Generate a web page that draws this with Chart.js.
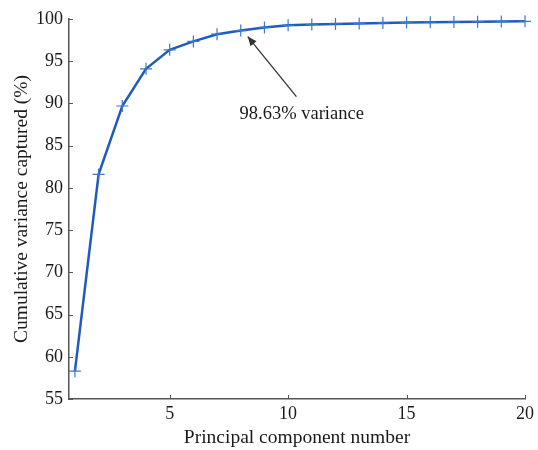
<!DOCTYPE html>
<html>
<head>
<meta charset="utf-8">
<script src="https://cdn.jsdelivr.net/npm/chart.js@4.4.1/dist/chart.umd.min.js"></script>
<style>
  html, body { margin: 0; padding: 0; background: #fff; }
  #wrap { width: 538px; height: 450px; }
</style>
</head>
<body>
<div id="wrap"><canvas id="pcaChart"></canvas></div>
<script>
const components = [1, 2, 3, 4, 5, 6, 7, 8, 9, 10, 11, 12, 13, 14, 15, 16, 17, 18, 19, 20];
const cumVariance = [58.3, 81.6, 89.7, 94.1, 96.35, 97.35, 98.2, 98.63, 99.0, 99.25,
                     99.35, 99.42, 99.48, 99.53, 99.58, 99.62, 99.65, 99.68, 99.71, 99.73];
const xTicks = [5, 10, 15, 20];
const noteText = "98.63% variance";
const noteIndex = 7;

const serif = "'Liberation Serif', 'DejaVu Serif', serif";
const axisGray = "#555";

// inward tick marks + arrow annotation
const extras = {
    id: "extras",
    afterDatasetsDraw(chart) {
        const c = chart.ctx;
        const xs = chart.scales.x, ys = chart.scales.y;
        const area = chart.chartArea;
        c.save();
        c.strokeStyle = axisGray;
        c.lineWidth = 1;
        xs.ticks.forEach(t => {
            const px = Math.round(xs.getPixelForValue(t.value)) + 0.5;
            c.beginPath();
            c.moveTo(px, area.bottom);
            c.lineTo(px, area.bottom - 4);
            c.stroke();
        });
        ys.ticks.forEach(t => {
            const py = Math.round(ys.getPixelForValue(t.value)) + 0.5;
            c.beginPath();
            c.moveTo(area.left, py);
            c.lineTo(area.left + 4, py);
            c.stroke();
        });

        // arrow pointing at the 8th component
        const hx = xs.getPixelForValue(components[noteIndex]) + 7;
        const hy = ys.getPixelForValue(cumVariance[noteIndex]) + 6;
        const tx = xs.getPixelForValue(10.35);
        const ty = ys.getPixelForValue(90.8);
        c.strokeStyle = "#333";
        c.fillStyle = "#333";
        c.lineWidth = 1.3;
        c.beginPath();
        c.moveTo(tx, ty);
        c.lineTo(hx, hy);
        c.stroke();
        const ang = Math.atan2(hy - ty, hx - tx);
        const len = 10, spread = 0.4;
        c.beginPath();
        c.moveTo(hx, hy);
        c.lineTo(hx - len * Math.cos(ang - spread), hy - len * Math.sin(ang - spread));
        c.lineTo(hx - len * Math.cos(ang + spread), hy - len * Math.sin(ang + spread));
        c.closePath();
        c.fill();

        c.fillStyle = "#1a1a1a";
        c.font = "18.5px " + serif;
        c.textAlign = "left";
        c.textBaseline = "middle";
        c.fillText(noteText, xs.getPixelForValue(7.95), ys.getPixelForValue(88.7));
        c.restore();
    }
};

const ctx = document.getElementById("pcaChart").getContext("2d");
const myChart = new Chart(ctx, {
    type: "line",
    data: {
        datasets: [
            {
                data: components.map((x, i) => ({ x: x, y: cumVariance[i] })),
                borderColor: "#1f5bbf",
                borderWidth: 2.5,
                pointStyle: "cross",
                pointRadius: 6,
                pointBorderWidth: 1.2,
                pointBorderColor: "#3a78c8",
                pointBackgroundColor: "#3a78c8",
                tension: 0,
                clip: false,
            },
        ],
    },
    plugins: [extras],
    options: {
        responsive: true,
        maintainAspectRatio: false,
        animation: false,
        layout: { padding: { left: 0, right: 11, top: 19, bottom: 0 } },
        plugins: {
            legend: { display: false },
            tooltip: { enabled: false },
        },
        scales: {
            x: {
                type: "linear",
                min: 0.75,
                max: 20,
                afterBuildTicks: (s) => { s.ticks = xTicks.map(v => ({ value: v })); },
                afterFit: (s) => { s.height = 51; },
                grid: { display: false, drawTicks: false },
                border: { display: true, color: axisGray, width: 1.5 },
                ticks: { color: "#1a1a1a", font: { family: serif, size: 18 }, padding: 4, maxRotation: 0 },
                title: {
                    display: true,
                    text: "Principal component number",
                    color: "#1a1a1a",
                    font: { family: serif, size: 19.5 },
                    padding: { top: 0, bottom: 0 },
                },
            },
            y: {
                min: 55,
                max: 100,
                afterFit: (s) => { s.width = 69; },
                grid: { display: false, drawTicks: false },
                border: { display: true, color: axisGray, width: 1.5 },
                ticks: { stepSize: 5, color: "#1a1a1a", font: { family: serif, size: 18 }, padding: 6 },
                title: {
                    display: true,
                    text: "Cumulative variance captured (%)",
                    color: "#1a1a1a",
                    font: { family: serif, size: 19.5 },
                    padding: { top: 10, bottom: 0 },
                },
            },
        },
    },
});
</script>
</body>
</html>
